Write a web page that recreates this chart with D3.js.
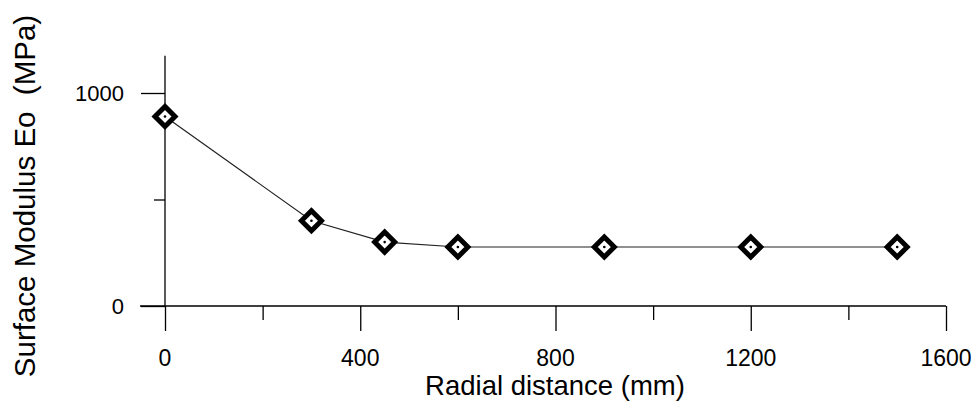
<!DOCTYPE html>
<html>
<head>
<meta charset="utf-8">
<script src="https://cdn.jsdelivr.net/npm/d3@7"></script>
<style>
  html, body { margin: 0; padding: 0; background: #fff; }
  svg text { font-family: Arial, "Liberation Sans", sans-serif; fill: #000; }
</style>
</head>
<body>
<svg id="chart" width="974" height="405"></svg>
<script>
const radialDistance = [0, 300, 450, 600, 900, 1200, 1500];
const surfaceModulus = [890, 400, 300, 277, 277, 277, 277];
const xMajorTicks = [0, 400, 800, 1200, 1600];
const xMinorTicks = [200, 600, 1000, 1400];
const yMajorTicks = [0, 1000];
const yMinorTicks = [500];
const xTitle = "Radial distance (mm)";
const yTitle = "Surface Modulus Eo\u00a0 (MPa)";

const svg = d3.select("#chart");
const x = d3.scaleLinear().domain([0, 1600]).range([165, 946]);
const y = d3.scaleLinear().domain([0, 1000]).range([306, 93]);

// X axis
const gx = svg.append("g").attr("transform", `translate(0,${y(0)})`);
gx.append("g").call(d3.axisBottom(x).tickValues(xMajorTicks).tickSizeInner(25).tickSizeOuter(0).tickFormat(""))
  .call(g => g.select(".domain").remove());
gx.append("g").call(d3.axisBottom(x).tickValues(xMinorTicks).tickSizeInner(14).tickSizeOuter(0).tickFormat(""))
  .call(g => g.select(".domain").remove());
gx.selectAll(".tick line").attr("stroke", "#000").attr("stroke-width", 1.3);
gx.append("line").attr("x1", x(0) - 25).attr("x2", x(1600)).attr("y1", 0).attr("y2", 0)
  .attr("stroke", "#000").attr("stroke-width", 1.5);
gx.selectAll(".xlab").data(xMajorTicks).enter().append("text")
  .attr("class", "xlab")
  .attr("x", d => x(d)).attr("y", 60)
  .attr("text-anchor", "middle").attr("font-size", 23)
  .text(d => d);

// Y axis
const gy = svg.append("g").attr("transform", `translate(${x(0)},0)`);
gy.append("g").call(d3.axisLeft(y).tickValues(yMajorTicks).tickSizeInner(24).tickSizeOuter(0).tickFormat(""))
  .call(g => g.select(".domain").remove());
gy.append("g").call(d3.axisLeft(y).tickValues(yMinorTicks).tickSizeInner(11).tickSizeOuter(0).tickFormat(""))
  .call(g => g.select(".domain").remove());
gy.selectAll(".tick line").attr("stroke", "#000").attr("stroke-width", 1.3);
gy.append("line").attr("x1", 0).attr("x2", 0).attr("y1", y(0)).attr("y2", y(1175))
  .attr("stroke", "#000").attr("stroke-width", 1.3);
gy.selectAll(".ylab").data(yMajorTicks).enter().append("text")
  .attr("class", "ylab")
  .attr("x", -41).attr("y", d => y(d) + 8)
  .attr("text-anchor", "end").attr("font-size", 22)
  .text(d => d);

// Titles
svg.append("text").attr("x", 555).attr("y", 395).attr("text-anchor", "middle")
  .attr("font-size", 27.5).text(xTitle);
svg.append("text").attr("transform", "translate(35,196) rotate(-90)")
  .attr("text-anchor", "middle").attr("font-size", 29.5).text(yTitle);

// Line
const pts = radialDistance.map((d, i) => [d, surfaceModulus[i]]);
svg.append("path").datum(pts)
  .attr("d", d3.line().x(d => x(d[0])).y(d => y(d[1])))
  .attr("fill", "none").attr("stroke", "#222").attr("stroke-width", 1.2);

// Markers
svg.selectAll(".mk").data(pts).enter().append("path")
  .attr("class", "mk")
  .attr("transform", d => `translate(${x(d[0])},${y(d[1])})`)
  .attr("d", "M0,-10 L10,0 L0,10 L-10,0 Z")
  .attr("fill", "#fff").attr("stroke", "#000").attr("stroke-width", 5)
  .attr("stroke-linejoin", "miter");
svg.selectAll(".dot").data(pts).enter().append("circle")
  .attr("cx", d => x(d[0])).attr("cy", d => y(d[1])).attr("r", 1.3).attr("fill", "#000");
</script>
</body>
</html>
